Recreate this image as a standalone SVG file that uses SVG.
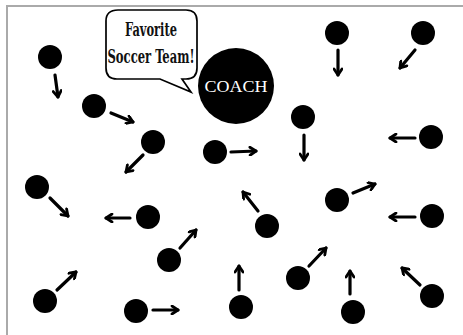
<svg xmlns="http://www.w3.org/2000/svg" width="463" height="335" viewBox="0 0 463 335">
<defs>
<style>
.p{fill:#000}
.a{stroke:#000;stroke-width:3.2;fill:none;stroke-linecap:round;marker-end:url(#ah)}
.bt{font-family:"DejaVu Serif Condensed","DejaVu Serif",serif;font-weight:bold;font-size:18px;fill:#111;text-anchor:middle}
</style>
<marker id="ah" markerUnits="userSpaceOnUse" viewBox="0 0 10 10" refX="8" refY="5" markerWidth="10" markerHeight="10" orient="auto">
<path d="M2,1 L8,5 L2,9" fill="none" stroke="#000" stroke-width="2.8" stroke-linecap="round" stroke-linejoin="round"/>
</marker>
</defs>
<rect width="463" height="335" fill="#fff"/>
<path d="M7,335 V6 H463" fill="none" stroke="#aaa" stroke-width="2"/>
<g id="bubble">
<path d="M118,10 H186 Q197,10 197,21 V68 Q197,79 186,79 H182 L191,92 L160,79 H117 Q106,79 106,68 V21 Q106,10 118,10 Z" fill="#fff" stroke="#000" stroke-width="1.7"/>
<text class="bt" x="151" y="36" textLength="52" lengthAdjust="spacingAndGlyphs">Favorite</text>
<text class="bt" x="151" y="63" textLength="87" lengthAdjust="spacingAndGlyphs">Soccer Team!</text>
</g>
<g id="coach">
<circle cx="236" cy="86" r="38" fill="#000"/>
<text x="236" y="92" fill="#fff" font-family="Liberation Serif,serif" font-size="17" text-anchor="middle" textLength="63" lengthAdjust="spacingAndGlyphs">COACH</text>
</g>
<g id="players">
<circle id="p1" class="p" cx="50" cy="57" r="12"/>
<circle id="p2" class="p" cx="94" cy="106" r="12"/>
<circle id="p3" class="p" cx="153" cy="142" r="12"/>
<circle id="p4" class="p" cx="215" cy="152" r="12"/>
<circle id="p6" class="p" cx="337" cy="33" r="12"/>
<circle id="p7" class="p" cx="423" cy="33" r="12"/>
<circle id="p8" class="p" cx="303" cy="117" r="12"/>
<circle id="p9" class="p" cx="431" cy="137" r="12"/>
<circle id="p10" class="p" cx="37" cy="187" r="12"/>
<circle id="p11" class="p" cx="148" cy="217" r="12"/>
<circle id="p12" class="p" cx="169" cy="260" r="12"/>
<circle id="p13" class="p" cx="45" cy="301" r="12"/>
<circle id="p14" class="p" cx="136" cy="311" r="12"/>
<circle id="p15" class="p" cx="267" cy="226" r="12"/>
<circle id="p16" class="p" cx="337" cy="200" r="12"/>
<circle id="p17" class="p" cx="432" cy="216" r="12"/>
<circle id="p18" class="p" cx="241" cy="307" r="12"/>
<circle id="p19" class="p" cx="298" cy="278" r="12"/>
<circle id="p20" class="p" cx="353" cy="312" r="12"/>
<circle id="p21" class="p" cx="432" cy="296" r="12"/>
</g>
<g id="connectors">
<line class="a" x1="55" y1="75" x2="58" y2="97"/>
<line class="a" x1="111" y1="113" x2="133" y2="122"/>
<line class="a" x1="143" y1="155" x2="126" y2="172"/>
<line class="a" x1="231" y1="152" x2="256" y2="151"/>
<line class="a" x1="338" y1="50" x2="338" y2="75"/>
<line class="a" x1="415" y1="50" x2="400" y2="68"/>
<line class="a" x1="304" y1="135" x2="304" y2="160"/>
<line class="a" x1="415" y1="138" x2="390" y2="138"/>
<line class="a" x1="50" y1="198" x2="68" y2="216"/>
<line class="a" x1="130" y1="218" x2="106" y2="218"/>
<line class="a" x1="180" y1="248" x2="196" y2="230"/>
<line class="a" x1="57" y1="290" x2="76" y2="272"/>
<line class="a" x1="153" y1="310" x2="178" y2="310"/>
<line class="a" x1="258" y1="211" x2="243" y2="192"/>
<line class="a" x1="353" y1="193" x2="375" y2="184"/>
<line class="a" x1="415" y1="217" x2="390" y2="217"/>
<line class="a" x1="239" y1="290" x2="239" y2="266"/>
<line class="a" x1="309" y1="266" x2="326" y2="248"/>
<line class="a" x1="350" y1="294" x2="350" y2="271"/>
<line class="a" x1="420" y1="285" x2="402" y2="268"/>
</g>
</svg>
